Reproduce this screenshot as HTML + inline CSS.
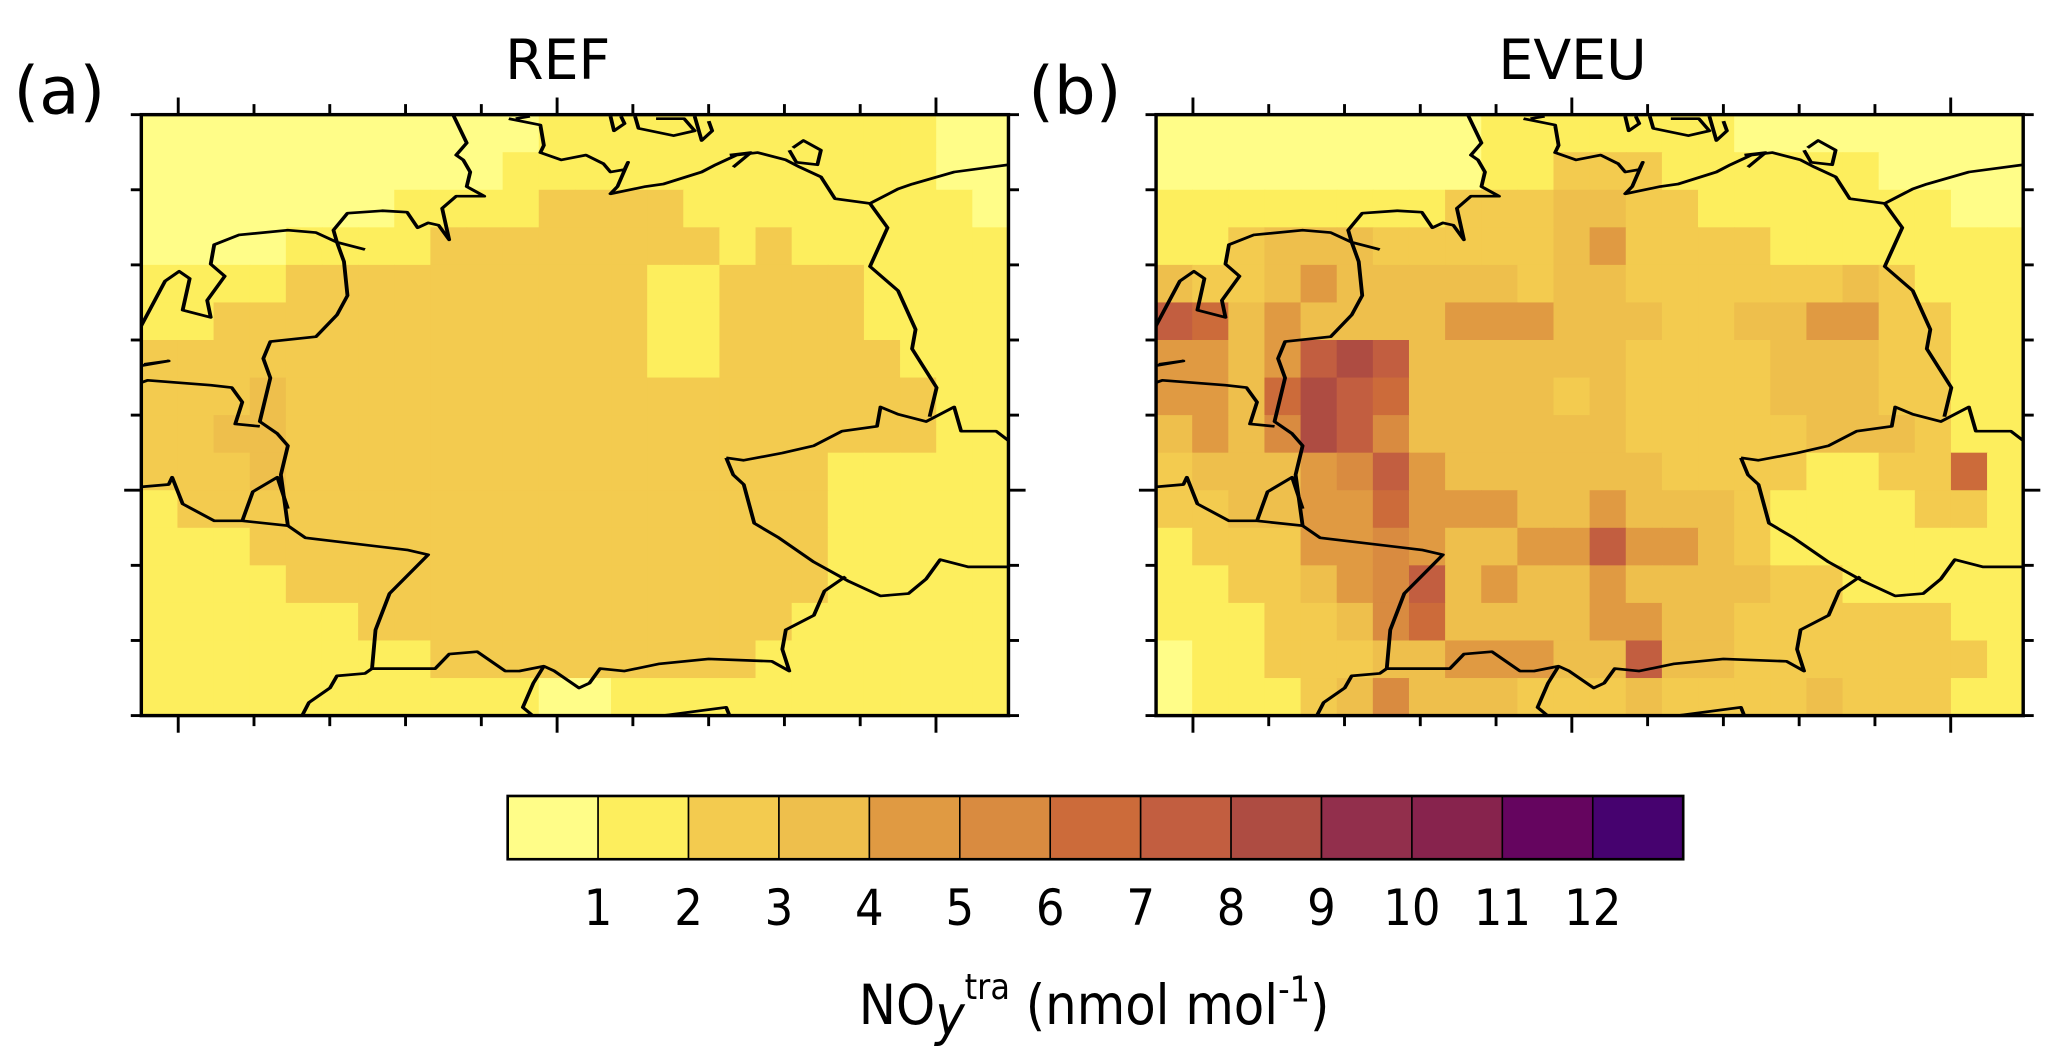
<!DOCTYPE html>
<html><head><meta charset="utf-8"><style>
html,body{margin:0;padding:0;background:#fff;overflow:hidden}
svg{display:block}
text{font-family:"DejaVu Sans","Liberation Sans",sans-serif;fill:#000}
</style></head><body>
<svg id="fig" width="2067" height="1049" viewBox="0 0 1568 796" xmlns="http://www.w3.org/2000/svg">
<g id="panels"></g>
<g id="cbar"></g>
<text x="830" y="777" text-anchor="middle" font-size="42" style="font-family:'DejaVu Sans Condensed','DejaVu Sans',sans-serif">NO<tspan font-style="italic" dy="8">y</tspan><tspan font-size="27" dy="-27">tra</tspan><tspan dy="19"> (nmol mol</tspan><tspan font-size="27" dy="-17">-1</tspan><tspan dy="17">)</tspan></text>
</svg>
<script>
const levelColors=["#fffd88","#fdee5d","#f3cb4f","#eebf4c","#e09a42","#d98b40","#cc6b3a","#c25e40","#ae4c42","#922f4c","#87234d","#65055f","#46026f"];
const levelLabels=["1","2","3","4","5","6","7","8","9","10","11","12"];
const refRows=[
"000000000001111111111100",
"000000000011111111111100",
"000000011112222111111110",
"000011112222222212111111",
"111122222222221122221111",
"112222222222221122221111",
"222222222222221122222111",
"222322222222222222222211",
"223322222222222222222211",
"222322222222222222211111",
"122222222222222222211111",
"111222222222222222211111",
"111122222222222222211111",
"111111222222222222111111",
"111111112222222221111111",
"111111111110011111111111"];
const eveuRows=[
"000000000111111100000000",
"000000000112221111110000",
"111111112223322111111100",
"112333222223422221111111",
"322343333323322222232111",
"763433334443332233442211",
"443478733333322223332211",
"443687633332322223332211",
"343587533333322222333211",
"233345743333332222112261",
"223344644433433321111221",
"122244543344744321111111",
"112234573433433332211111",
"111223563333443322222211",
"011222334443373322222221",
"011123533322232222322211"];
const panelTitles=["REF","EVEU"];
const panelLetters=["(a)","(b)"];

const NS="http://www.w3.org/2000/svg";
function mk(tag,attrs,parent){const e=document.createElementNS(NS,tag);for(const k in attrs)e.setAttribute(k,attrs[k]);parent.appendChild(e);return e;}
const PX0=107,PY0=87,PW=658,PH=456,POFF=770;
const borders=[
"M200,675 L235,580 L255,560 L270,575 L260,640 L300,655 L295,620 L320,570 L300,545 L305,505 L340,485 L410,475 L450,480 L480,500",
"M480,500 L520,515 M480,500 L475,475 L495,440 L545,435 L580,438 L595,470 L610,460 L625,465 L640,495 L630,430 L650,405 L690,405 L665,385 L670,355 L660,330 L650,320 L665,295 L645,235",
"M735,245 L755,240 M725,245 L770,258 L775,300 L770,315 L800,330 L835,320 L860,338 L870,355 L890,350 L895,335 L880,385 L870,400 L920,385 L945,380 L1000,355 L1020,340 L1050,320 L1080,315 L1120,330 L1140,345 L1170,365 L1190,410 L1240,420 L1280,390 L1300,380 L1360,355 L1438,340",
"M870,240 L875,270 L890,255 L885,240 M905,240 L910,265 L960,280 L990,270 L975,245 L935,245 M990,240 L1000,290 L1015,270 L1010,250 M1130,305 L1145,290 L1170,310 L1165,340 L1135,335 L1125,310",
"M1040,320 L1070,315 L1045,345",
"M1240,420 L1265,470 L1240,550 L1280,600 L1305,680 L1300,720 L1335,800 L1325,860",
"M1035,945 L1060,950 L1115,935 L1160,920 L1200,890 L1250,880 L1255,840 L1280,855 L1320,870 L1360,840 L1370,890 L1420,890 L1438,910",
"M1035,945 L1045,980 L1060,1000 L1075,1080 L1110,1110 L1160,1160 L1210,1200 L1255,1230 L1295,1225 L1320,1195 L1340,1155 L1380,1170 L1438,1170",
"M1205,1190 L1175,1220 L1160,1270 L1120,1300 L1115,1340 L1125,1385 L1100,1365 L1010,1360 L940,1370 L890,1385 L855,1380 L840,1410 L825,1420 L790,1385 L775,1375 L740,1385 L720,1385 L680,1345 L640,1350 L620,1380 L530,1380",
"M775,1375 L760,1410 L745,1460 L760,1478 M530,1380 L520,1390 L480,1395 L470,1420 L440,1450 L430,1478 M940,1478 L1035,1460 L1040,1478",
"M480,500 L490,540 L495,610 L480,650 L450,695 L385,705 L375,740 L385,780 L370,870 L395,895 L410,920 L400,980 L410,1085 L435,1110 L580,1135 L610,1145 L555,1225 L535,1300 L530,1380",
"M200,790 L210,785 L300,795 L330,800 L345,830 L335,875 L370,880",
"M200,1005 L240,1000 L245,985 L260,1040 L305,1075 L345,1075 L410,1085 M345,1075 L360,1015 L395,985 L410,1050",
"M200,755 L240,745 L205,752"];

const panels=document.getElementById('panels');
[refRows,eveuRows].forEach((rows,p)=>{
  const ox=PX0+p*POFF;
  const nr=rows.length,nc=rows[0].length;
  const xs=c=>ox+c*PW/nc, ys=r=>PY0+r*PH/nr;
  const g=mk('g',{},panels);
  
  
  const clipId='clip'+p;
  const cp=mk('clipPath',{id:clipId},g);mk('rect',{x:ox,y:PY0,width:PW,height:PH},cp);
  const cells=mk('g',{'clip-path':'url(#'+clipId+')'},g);
  
  
  rows.forEach((row,r)=>{for(let c=0;c<nc;c++){const v=parseInt(row[c],36);
    const rc=mk('rect',{x:xs(c),y:ys(r),width:PW/nc+0.6,height:PH/nr+0.6,fill:levelColors[v]},cells);
    
    }});
  const bg=mk('g',{'clip-path':'url(#'+clipId+')'},g);
  
  
  const inner=mk('g',{transform:`translate(${p*POFF},0) scale(${1/1.879},${1/2.72})`},bg);
  borders.forEach(d=>mk('path',{d:d,fill:'none',stroke:'#000','stroke-width':5.5,'stroke-linejoin':'round'},inner));
  const fr=mk('rect',{x:ox,y:PY0,width:PW,height:PH,fill:'none',stroke:'#000','stroke-width':2.6},g);
  
  
  const tk=mk('g',{stroke:'#000','stroke-width':2.2},g);
  
  
  for(let i=0;i<12;i++){const x=ox+28+i*57.5;if(x>ox+PW+1)break;const L=(i%5===0)?13:8;
    mk('line',{x1:x,y1:PY0,x2:x,y2:PY0-L},tk);mk('line',{x1:x,y1:PY0+PH,x2:x,y2:PY0+PH+L},tk);}
  for(let i=0;i<9;i++){const y=PY0+i*57;const L=(i===5)?13:8;
    mk('line',{x1:ox,y1:y,x2:ox-L,y2:y},tk);mk('line',{x1:ox+PW,y1:y,x2:ox+PW+L,y2:y},tk);}
  const t=mk('text',{x:ox+316,y:60,'text-anchor':'middle','font-size':42},g);t.textContent=panelTitles[p];
  
  
  const l=mk('text',{x:ox-97,y:86,'font-size':50},g);l.textContent=panelLetters[p];
  
  
});

const cb=document.getElementById('cbar');
const CX0=385,CW=892,CY=604,CH=48,bw=CW/levelColors.length;
levelColors.forEach((col,i)=>{const r=mk('rect',{x:CX0+i*bw,y:CY,width:bw,height:CH,fill:col,stroke:'#000','stroke-width':1.2},cb);
  
  });
const cf=mk('rect',{x:CX0,y:CY,width:CW,height:CH,fill:'none',stroke:'#000','stroke-width':2},cb);


levelLabels.forEach((s,i)=>{const t=mk('text',{x:CX0+(i+1)*bw,y:702,'text-anchor':'middle','font-size':38,style:"font-family:'DejaVu Sans Condensed','DejaVu Sans',sans-serif"},cb);t.textContent=s;
  
  });
</script>
</body></html>
